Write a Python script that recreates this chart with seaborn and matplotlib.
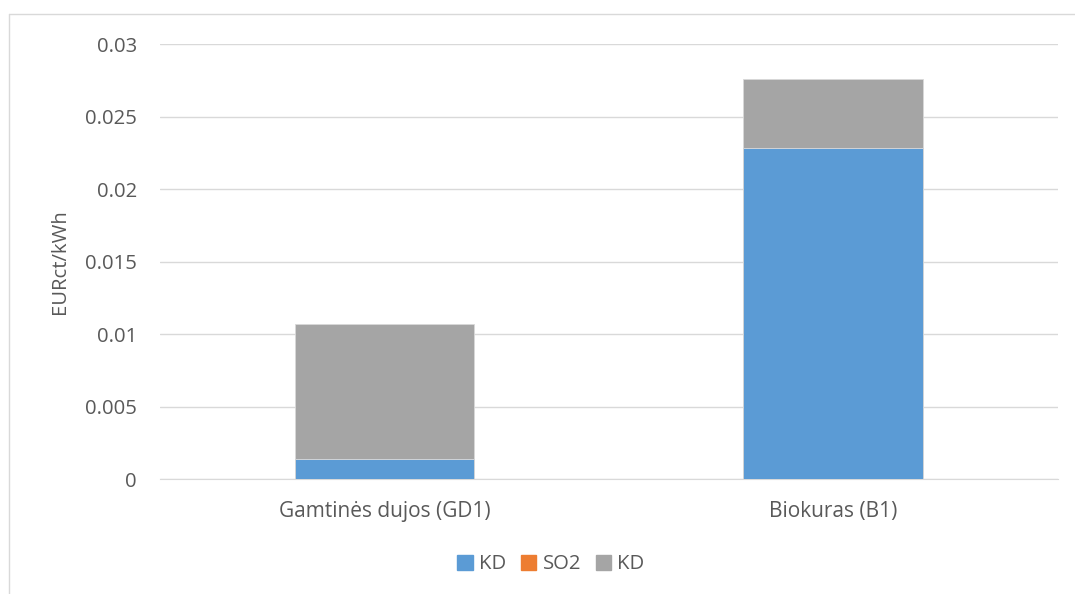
import pandas as pd
import matplotlib.pyplot as plt
import matplotlib.lines as mlines
import matplotlib.patches as mpatches
import seaborn as sns

# chart data
categories = ["Gamtinės dujos (GD1)", "Biokuras (B1)"]
kd_values = [0.00137, 0.02283]
so2_values = [0.0, 0.0]
kd2_values = [0.00932, 0.00477]
series_labels = ["KD", "SO2", "KD"]
series_colors = ["#5b9bd5", "#ed7d31", "#a5a5a5"]
y_ticks = [0, 0.005, 0.01, 0.015, 0.02, 0.025, 0.03]
y_tick_labels = ["0", "0.005", "0.01", "0.015", "0.02", "0.025", "0.03"]

df = pd.DataFrame({"cat": categories, "kd": kd_values, "so2": so2_values, "kd2": kd2_values})
df["lvl1"] = df["kd"]
df["lvl2"] = df["kd"] + df["so2"]
df["lvl3"] = df["lvl2"] + df["kd2"]

sns.set_style("white")
plt.rcParams["font.family"] = ["Open Sans", "DejaVu Sans"]
text_color = "#595959"

fig = plt.figure(figsize=(10.75, 5.94), dpi=100)
ax = fig.add_axes([0.1488, 0.1936, 0.835, 0.7323])

# stacked bars drawn as cumulative overlays, tallest first
for col, color in zip(["lvl3", "lvl2", "lvl1"], series_colors[::-1]):
    sns.barplot(data=df, x="cat", y=col, color=color, width=0.4,
                saturation=1, edgecolor="#d9d9d9", linewidth=0.6, ax=ax, zorder=3)

ax.set_ylim(0, 0.03)
ax.set_xlim(-0.5, 1.5)
ax.set_yticks(y_ticks)
ax.set_yticklabels(y_tick_labels)
ax.yaxis.grid(True, color="#d9d9d9", linewidth=1)
ax.set_axisbelow(True)
for s in ["top", "right", "left"]:
    ax.spines[s].set_visible(False)
ax.spines["bottom"].set_color("#d9d9d9")
ax.tick_params(axis="y", length=0, labelsize=14.6, colors=text_color, pad=16.5)
ax.tick_params(axis="x", length=0, labelsize=15, colors=text_color, pad=15.5)
ax.set_xlabel("")
ax.set_ylabel("EURct/kWh", fontsize=14.6, color=text_color, labelpad=11)

handles = [mpatches.Patch(color=c, label=l) for c, l in zip(series_colors, series_labels)]
fig.legend(handles=handles, loc="center", bbox_to_anchor=(0.5126, 0.05), ncol=3,
           frameon=False, fontsize=14.6, handlelength=0.75, handleheight=0.75,
           handletextpad=0.3, columnspacing=0.75, labelcolor=text_color)

# outer chart frame (top and left edges visible)
fig.add_artist(mlines.Line2D([9 / 1075, 1], [1 - 14 / 594, 1 - 14 / 594], color="#d9d9d9", lw=1))
fig.add_artist(mlines.Line2D([9 / 1075, 9 / 1075], [0, 1 - 14 / 594], color="#d9d9d9", lw=1))

fig.savefig("out.png", dpi=100)
